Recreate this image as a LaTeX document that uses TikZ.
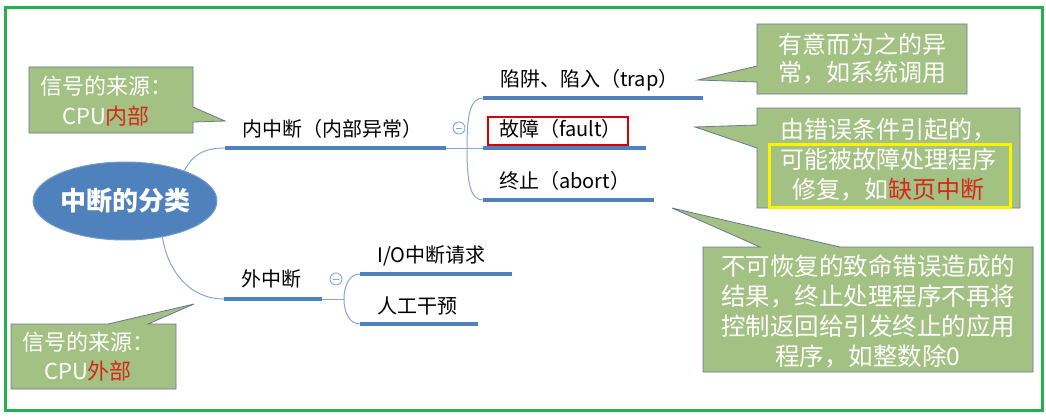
\documentclass[tikz,border=0pt]{standalone}
\usepackage{fontspec}
\setmainfont{Noto Sans CJK SC}
\usetikzlibrary{shapes.geometric}
\definecolor{framegreen}{RGB}{34,177,76}
\definecolor{ublue}{RGB}{79,129,189}
\definecolor{lblue}{RGB}{135,168,212}
\definecolor{cfill}{RGB}{162,193,130}
\definecolor{cedge}{RGB}{105,120,148}
\definecolor{cred}{RGB}{215,40,30}
\tikzset{
  lbl/.style={anchor=west, inner sep=0pt, font=\fontsize{20}{24}\selectfont, text=black},
  uline/.style={line width=3.5pt, ublue},
  thin/.style={line width=1pt, lblue},
  callout/.style={fill=cfill, draw=cedge, line width=0.8pt},
  ctext/.style={align=center, inner sep=0pt, text=white},
  minusc/.style={circle, draw=lblue, line width=0.9pt, minimum size=12pt, inner sep=0pt}
}
\begin{document}
\begin{tikzpicture}[x=1pt,y=-1pt]
\useasboundingbox (0,0) rectangle (1046,420);
\fill[white] (0,0) rectangle (1046,420);
\draw[framegreen, line width=3pt] (5,8) rectangle (1042,410);

% root
\node[ellipse, fill=ublue, draw=ublue!80!white, line width=1pt, minimum width=180pt, minimum height=78pt, inner sep=0pt,
  text=white, font=\fontsize{26}{30}\selectfont\bfseries] (root) at (125,201) {中断的分类};

% level 1 labels and underlines
\node[lbl] (nei) at (242,129) {内中断（内部异常）};
\coordinate (neiA) at (225,148);
\coordinate (neiB) at (446,148);
\coordinate (neiC) at (483,148);
\draw[uline] (neiA) -- (neiB);
\draw[thin] (neiB) -- (neiC);

\node[lbl] (wai) at (241,279) {外中断};
\coordinate (waiA) at (224,299);
\coordinate (waiB) at (322,299);
\coordinate (waiC) at (344,299);
\draw[uline] (waiA) -- (waiB);
\draw[thin] (waiB) -- (waiC);

% curves from root
\draw[thin] (root.27) .. controls +(8,-16) and (204,148) .. (neiA);
\draw[thin] (root.-44) .. controls (168,272) and (190,299) .. (waiA);

% collapse markers
\node[minusc] (m1) at (459,128) {};
\draw[lblue, line width=0.9pt] ([xshift=-3pt]m1.center) -- ([xshift=3pt]m1.center);
\node[minusc] (m2) at (336,279) {};
\draw[lblue, line width=0.9pt] ([xshift=-3pt]m2.center) -- ([xshift=3pt]m2.center);

% children of 内中断
\node[lbl] (trap) at (500,80) {陷阱、陷入（trap）};
\node[lbl] (fault) at (499,129) {故障（fault）};
\node[lbl] (abort) at (499,181) {终止（abort）};
\coordinate (trapA) at (483,98);  \coordinate (trapB) at (703,98);
\coordinate (faultA) at (483,148); \coordinate (faultB) at (646,148);
\coordinate (abortA) at (483,200); \coordinate (abortB) at (654,200);
\draw[uline] (trapA) -- (trapB);
\draw[uline] (faultA) -- (faultB);
\draw[uline] (abortA) -- (abortB);
\draw[thin] (trapA) .. controls (470,98) and (467,115) .. (467,148)
  .. controls (467,182) and (470,200) .. (abortA);
\draw[red!85!black, line width=1.6pt] (488,117) rectangle (628,145);

% children of 外中断
\node[lbl] (io) at (377,256) {I/O中断请求};
\node[lbl] (man) at (377,306) {人工干预};
\coordinate (ioA) at (360,274); \coordinate (ioB) at (512,274);
\coordinate (manA) at (360,324); \coordinate (manB) at (478,324);
\draw[uline] (ioA) -- (ioB);
\draw[uline] (manA) -- (manB);
\draw[thin] (ioA) .. controls (349,274) and (344,286) .. (waiC)
  .. controls (344,312) and (349,324) .. (manA);

% left callouts
\coordinate (tipL1) at (225,121);
\draw[callout] (29,67) -- (193,67) -- (193,107) -- (tipL1) -- (193,122) -- (193,133) -- (29,133) -- cycle;
\node[ctext, font=\fontsize{22}{30}\selectfont] (c1) at (106,101) {信号的来源：\\CPU\textcolor{cred}{内部}};

\coordinate (tipL2) at (194,304);
\draw[callout] (11,324) -- (108,324) -- (tipL2) -- (148,324) -- (176,324) -- (176,389) -- (11,389) -- cycle;
\node[ctext, font=\fontsize{22}{29}\selectfont] (c2) at (88,357) {信号的来源：\\CPU\textcolor{cred}{外部}};

% right callouts
\coordinate (tipA) at (698,80);
\draw[callout] (757,24) -- (967,24) -- (967,94) -- (757,94) -- (757,82) -- (tipA) -- (757,66) -- cycle;
\node[ctext, font=\fontsize{24}{28}\selectfont] (ca) at (862,59) {有意而为之的异\\常，如系统调用};

\coordinate (tipB) at (695,127);
\draw[callout] (757,108) -- (1020,108) -- (1020,208) -- (757,208) -- (757,148) -- (tipB) -- (757,125) -- cycle;
\node[ctext, font=\fontsize{24}{30}\selectfont] (cb) at (888,160) {由错误条件引起的，\\可能被故障处理程序\\修复，如\textcolor{cred}{缺页中断}};
\draw[yellow, line width=3pt] (769,144) rectangle (1010,207);

\coordinate (tipC) at (672,208);
\draw[callout] (703,247) -- (760,247) -- (tipC) -- (840,247) -- (1033,247) -- (1033,372) -- (703,372) -- cycle;
\node[ctext, font=\fontsize{24.5}{30}\selectfont] (cc) at (868,311) {不可恢复的致命错误造成的\\结果，终止处理程序不再将\\控制返回给引发终止的应用\\程序，如整数除0};
\end{tikzpicture}
\end{document}
